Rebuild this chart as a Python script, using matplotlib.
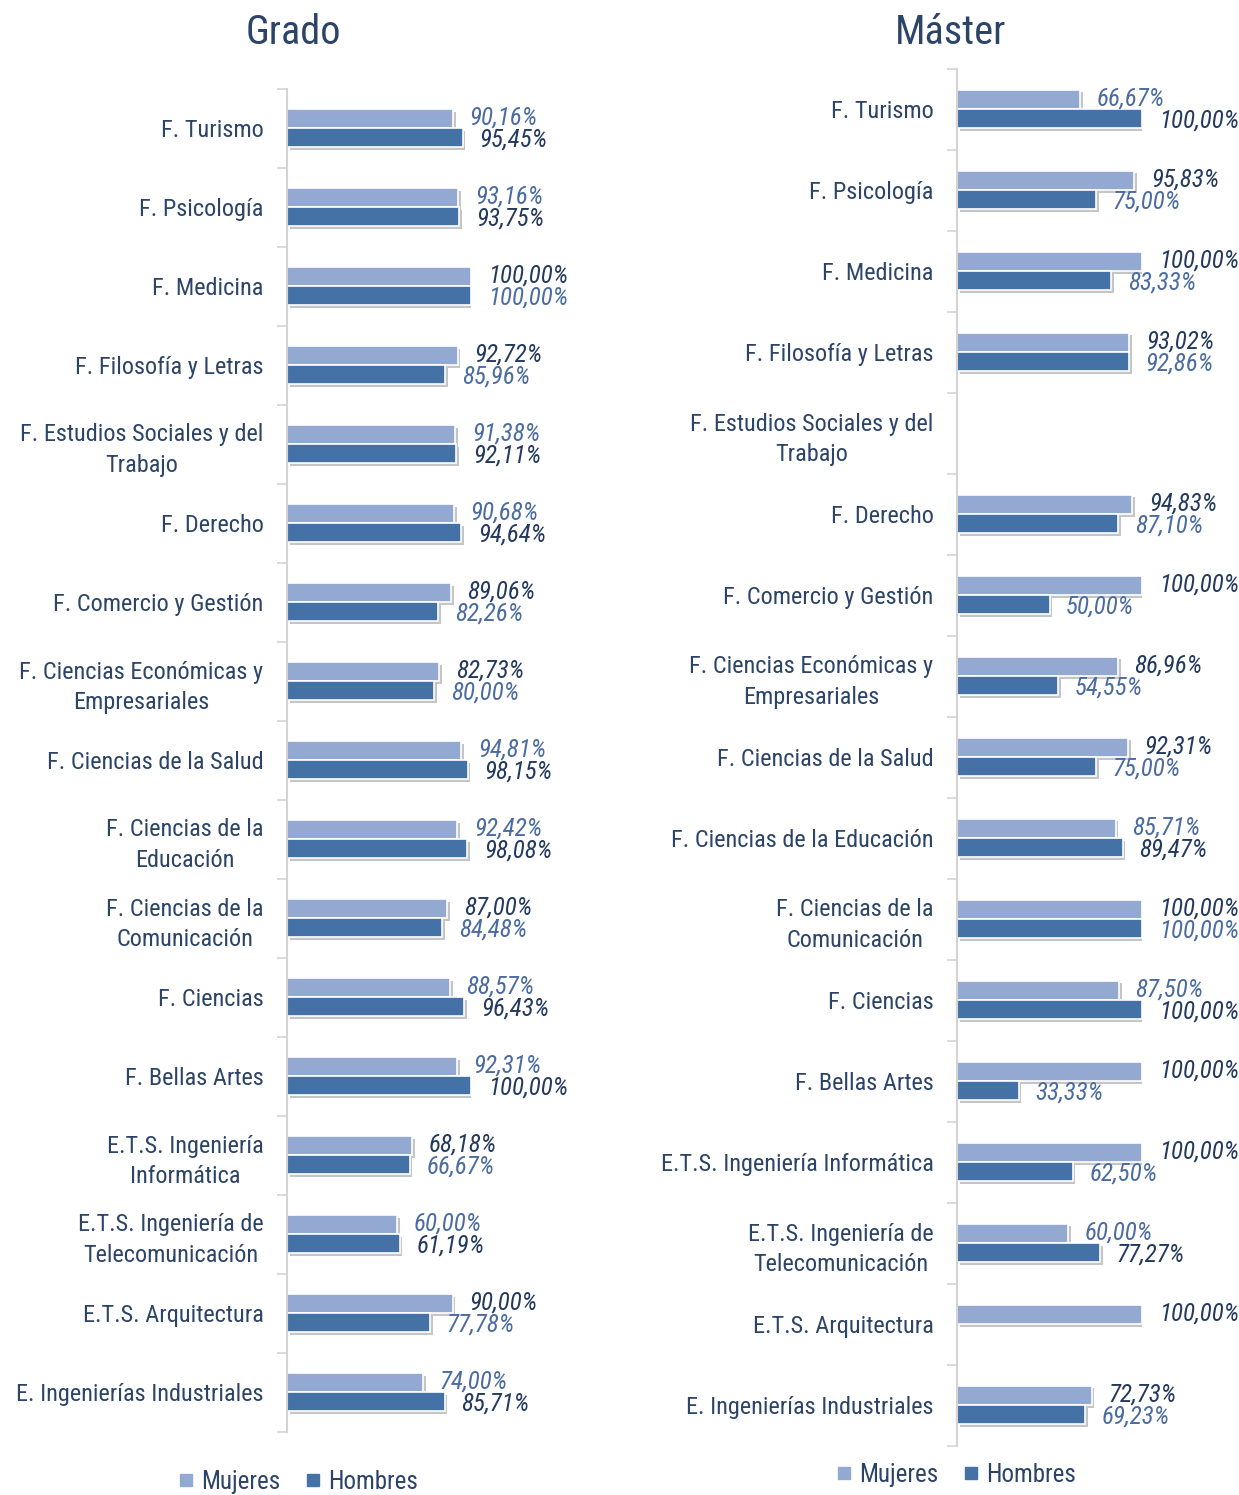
#!/usr/bin/env python3
"""Grado / Master bar chart: mujeres vs hombres by centre."""
import numpy as np
import matplotlib
matplotlib.use('Agg')
import matplotlib.pyplot as plt
import matplotlib.patheffects as pe
from matplotlib import font_manager as fm
from matplotlib.lines import Line2D

# pick a narrow font if one is installed
_installed = {f.name for f in fm.fontManager.ttflist}
_narrow = [n for n in ('Liberation Sans Narrow', 'Arial Narrow', 'Roboto Condensed',
                       'Archivo Narrow', 'PT Sans Narrow', 'Fira Sans Condensed',
                       'IBM Plex Sans Condensed', 'Asap Condensed', 'Open Sans Condensed')
           if n in _installed]
plt.rcParams['font.family'] = _narrow[:1] + ['DejaVu Sans']

# Data
grado_labels = [
    'F. Turismo', 'F. Psicología', 'F. Medicina', 'F. Filosofía y Letras',
    'F. Estudios Sociales y del\nTrabajo', 'F. Derecho', 'F. Comercio y Gestión',
    'F. Ciencias Económicas y\nEmpresariales', 'F. Ciencias de la Salud',
    'F. Ciencias de la\nEducación', 'F. Ciencias de la\nComunicación',
    'F. Ciencias', 'F. Bellas Artes', 'E.T.S. Ingeniería\nInformática',
    'E.T.S. Ingeniería de\nTelecomunicación', 'E.T.S. Arquitectura',
    'E. Ingenierías Industriales',
]
grado_mujeres = [90.16, 93.16, 100.00, 92.72, 91.38, 90.68, 89.06, 82.73, 94.81,
                 92.42, 87.00, 88.57, 92.31, 68.18, 60.00, 90.00, 74.00]
grado_hombres = [95.45, 93.75, 100.00, 85.96, 92.11, 94.64, 82.26, 80.00, 98.15,
                 98.08, 84.48, 96.43, 100.00, 66.67, 61.19, 77.78, 85.71]

master_labels = [
    'F. Turismo', 'F. Psicología', 'F. Medicina', 'F. Filosofía y Letras',
    'F. Estudios Sociales y del\nTrabajo', 'F. Derecho', 'F. Comercio y Gestión',
    'F. Ciencias Económicas y\nEmpresariales', 'F. Ciencias de la Salud',
    'F. Ciencias de la Educación', 'F. Ciencias de la\nComunicación',
    'F. Ciencias', 'F. Bellas Artes', 'E.T.S. Ingeniería Informática',
    'E.T.S. Ingeniería de\nTelecomunicación', 'E.T.S. Arquitectura',
    'E. Ingenierías Industriales',
]
master_mujeres = [66.67, 95.83, 100.00, 93.02, np.nan, 94.83, 100.00, 86.96, 92.31,
                  85.71, 100.00, 87.50, 100.00, 100.00, 60.00, 100.00, 72.73]
master_hombres = [100.00, 75.00, 83.33, 92.86, np.nan, 87.10, 50.00, 54.55, 75.00,
                  89.47, 100.00, 100.00, 33.33, 62.50, 77.27, np.nan, 69.23]

# Style
COLOR_MUJ = '#94a9d1'
COLOR_HOM = '#4472a7'
COLOR_TEXT = '#2c4468'
COLOR_LBL_DARK = '#233a5e'
COLOR_LBL_MID = '#4b6ca0'
COLOR_AXIS = '#d4d4d4'
W, H = 1239, 1495
BAR_H = 0.24

shadow = [pe.SimplePatchShadow(offset=(2, -2), shadow_rgbFace='#808080', alpha=0.45),
          pe.Normal()]


def fmt(v):
    return f'{v:.2f}'.replace('.', ',') + '%'


def panel(fig, rect, labels, muj, hom, title, title_x, legend_xy):
    ax = fig.add_axes(rect)
    n = len(labels)
    y = np.arange(n)
    muj = np.array(muj, dtype=float)
    hom = np.array(hom, dtype=float)

    b1 = ax.barh(y - BAR_H / 2, np.nan_to_num(muj), height=BAR_H, color=COLOR_MUJ,
                 edgecolor='white', linewidth=1.2)
    b2 = ax.barh(y + BAR_H / 2, np.nan_to_num(hom), height=BAR_H, color=COLOR_HOM,
                 edgecolor='white', linewidth=1.2)
    for bars, vals in ((b1, muj), (b2, hom)):
        for bar, v in zip(bars, vals):
            if np.isnan(v):
                bar.set_visible(False)
            else:
                bar.set_path_effects(shadow)

    # value labels (the larger of the pair is drawn darker)
    for i in range(n):
        m, h = muj[i], hom[i]
        for v, yy, other, is_m in ((m, i - BAR_H / 2, h, True), (h, i + BAR_H / 2, m, False)):
            if np.isnan(v):
                continue
            if np.isnan(other):
                dark = True
            elif is_m:
                dark = v >= other
            else:
                dark = v > other
            ax.annotate(fmt(v), (v, yy), xytext=(12, 0.5 if is_m else -1.5),
                        textcoords='offset points', va='center', ha='left',
                        fontsize=18, style='italic',
                        color=COLOR_LBL_DARK if dark else COLOR_LBL_MID)

    ax.set_xlim(0, 100)
    ax.set_ylim(n - 0.5, -0.5)
    ax.set_yticks(y)
    ax.set_yticklabels(labels, fontsize=17.5, color=COLOR_TEXT, multialignment='center',
                       linespacing=1.4)
    ax.set_yticks(np.arange(n + 1) - 0.5, minor=True)
    ax.tick_params(axis='y', which='major', length=0, pad=17)
    ax.tick_params(axis='y', which='minor', length=7, width=1.2, color=COLOR_AXIS,
                   direction='out')
    ax.set_xticks([])
    for s in ('top', 'right', 'bottom'):
        ax.spines[s].set_visible(False)
    ax.spines['left'].set_color(COLOR_AXIS)
    ax.spines['left'].set_linewidth(1.5)
    ax.patch.set_visible(False)

    fig.text(title_x, 1 - 32 / H, title, ha='center', va='center', fontsize=29,
             color=COLOR_TEXT)

    handles = [Line2D([], [], marker='s', linestyle='none', markersize=9,
                      markerfacecolor=COLOR_MUJ, markeredgecolor=COLOR_MUJ),
               Line2D([], [], marker='s', linestyle='none', markersize=9,
                      markerfacecolor=COLOR_HOM, markeredgecolor=COLOR_HOM)]
    leg = fig.legend(handles, ['Mujeres', 'Hombres'], loc='center',
                     bbox_to_anchor=legend_xy, ncol=2, frameon=False, fontsize=18,
                     handlelength=0.6, handletextpad=0.3, columnspacing=1.0,
                     borderpad=0)
    for t in leg.get_texts():
        t.set_color(COLOR_TEXT)
    return ax


fig = plt.figure(figsize=(W / 100, H / 100), dpi=100)
fig.patch.set_facecolor('white')

panel(fig, [287 / W, (H - 1431.5) / H, 184 / W, 1343 / H],
      grado_labels, grado_mujeres, grado_hombres, 'Grado', 293 / W,
      (298 / W, 1 - 1482 / H))
panel(fig, [957 / W, (H - 1445.5) / H, 185 / W, 1377 / H],
      master_labels, master_mujeres, master_hombres, 'Máster', 951 / W,
      (956 / W, 1 - 1475 / H))

fig.savefig('out.png', dpi=100, facecolor='white')
plt.close(fig)
